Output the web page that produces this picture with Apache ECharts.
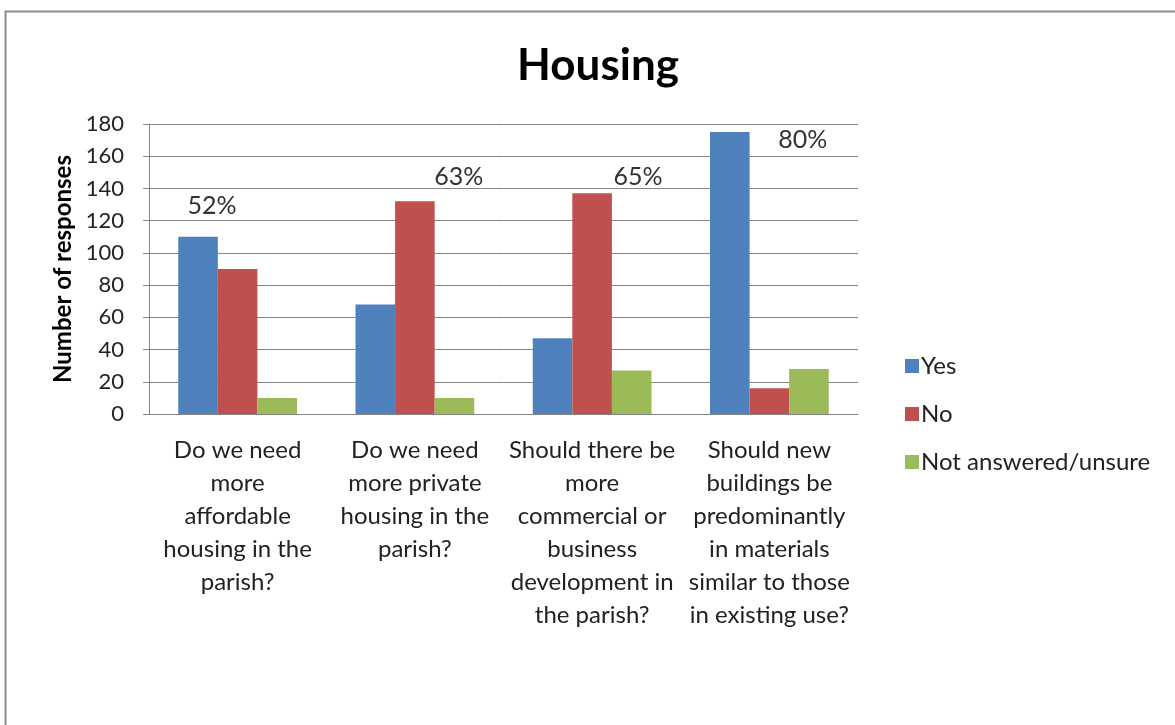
<!DOCTYPE html>
<html>
<head>
<meta charset="utf-8">
<script src="https://cdn.jsdelivr.net/npm/echarts@6/dist/echarts.min.js"></script>
<style>
  html, body { margin: 0; padding: 0; background: #fff; }
  #chart { width: 1175px; height: 725px; }
</style>
</head>
<body>
<div id="chart"></div>
<script>
// Survey questions (x-axis categories, wrapped as printed)
const categories = [
  'Do we need\nmore\naffordable\nhousing in the\nparish?',
  'Do we need\nmore private\nhousing in the\nparish?',
  'Should there be\nmore\ncommercial or\nbusiness\ndevelopment in\nthe parish?',
  'Should new\nbuildings be\npredominantly\nin materials\nsimilar to those\nin existing use?'
];

// Number of responses per answer
const yesValues = [110, 68, 47, 175];
const noValues = [90, 132, 137, 16];
const unsureValues = [10, 10, 27, 28];

// Value axis ticks
const yTicks = [0, 20, 40, 60, 80, 100, 120, 140, 160, 180];

const seriesNames = ['Yes', 'No', 'Not answered/unsure'];
const colors = ['#4F81BD', '#C0504D', '#9BBB59'];

const FONT = 'Lato, "Noto Sans", sans-serif';

// Share of the majority answer for each question, shown next to the tallest bar
const allValues = [yesValues, noValues, unsureValues];
const pctOffsets = [[14, -13], [44, -7], [46, 1], [73, 25]];

function buildData(seriesIdx) {
  return allValues[seriesIdx].map((v, i) => {
    const col = allValues.map(a => a[i]);
    const total = col.reduce((s, x) => s + x, 0);
    const maxIdx = col.indexOf(Math.max(...col));
    if (maxIdx !== seriesIdx) return v;
    const pct = Math.round(col[maxIdx] / total * 100) + '%';
    return {
      value: v,
      label: {
        show: true,
        position: 'top',
        offset: pctOffsets[i],
        formatter: pct,
        fontSize: 25,
        fontFamily: FONT,
        color: '#333'
      }
    };
  });
}

const chart = echarts.init(document.getElementById('chart'), null, { renderer: 'canvas' });

chart.setOption({
  animation: false,
  backgroundColor: '#fff',
  color: colors,
  title: {
    text: 'Housing',
    left: 593,
    textAlign: 'center',
    top: 39,
    textStyle: { fontSize: 44, fontWeight: 'bold', fontFamily: FONT, color: '#000' }
  },
  legend: {
    orient: 'vertical',
    left: 900,
    top: 349,
    itemGap: 24,
    itemWidth: 14,
    itemHeight: 14,
    icon: 'rect',
    data: seriesNames,
    textStyle: { fontSize: 24, fontFamily: FONT, color: '#222', padding: [0, 0, 0, -3] }
  },
  grid: { left: 149, right: 317, top: 124, bottom: 311, containLabel: false },
  xAxis: {
    type: 'category',
    data: categories,
    axisLine: { show: true, lineStyle: { color: '#868686', width: 1 } },
    axisTick: { show: false },
    axisLabel: {
      interval: 0,
      margin: 20,
      fontSize: 24,
      lineHeight: 33,
      fontFamily: FONT,
      color: '#222',
      align: 'center'
    }
  },
  yAxis: {
    type: 'value',
    min: yTicks[0],
    max: yTicks[yTicks.length - 1],
    interval: yTicks[1] - yTicks[0],
    name: 'Number of responses',
    nameLocation: 'middle',
    nameGap: 72,
    nameTextStyle: { fontSize: 24, fontWeight: 'bold', fontFamily: FONT, color: '#000' },
    axisLine: { show: true, lineStyle: { color: '#868686', width: 1 } },
    axisTick: { show: true, length: 6, lineStyle: { color: '#868686' } },
    axisLabel: { fontSize: 22, fontFamily: FONT, color: '#222', margin: 25 },
    splitLine: { lineStyle: { color: '#868686', width: 1 } }
  },
  series: seriesNames.map((name, k) => ({
    name: name,
    type: 'bar',
    barGap: '0%',
    barCategoryGap: '33%',
    data: buildData(k),
    itemStyle: { color: colors[k] }
  })),
  graphic: [
    {
      type: 'polyline',
      shape: { points: [[5.5, 725], [5.5, 11.5], [1175, 11.5]] },
      style: { stroke: '#8c8c8c', lineWidth: 2, fill: null },
      silent: true
    }
  ]
});
</script>
</body>
</html>
